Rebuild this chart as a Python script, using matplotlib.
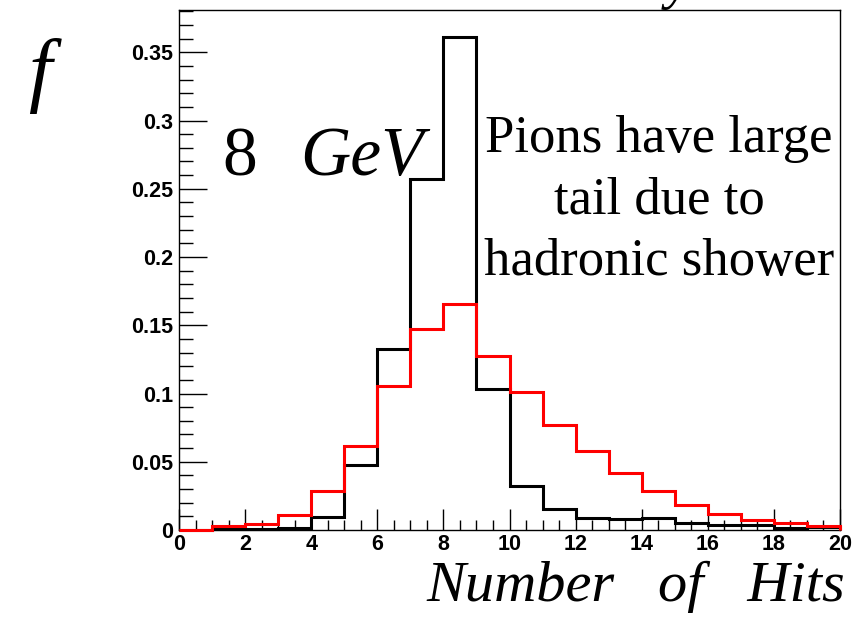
import matplotlib
matplotlib.use('Agg')
import matplotlib.pyplot as plt
from matplotlib.ticker import MultipleLocator
import numpy as np

# bin edges: number of hits, unit-wide bins
edges = np.arange(0, 21)

# normalised hit-count fractions
electrons = [0.0, 0.0004, 0.0004, 0.0018, 0.0093, 0.0474, 0.1326, 0.2575, 0.3615, 0.1030,
             0.0320, 0.0154, 0.0087, 0.0077, 0.0087, 0.0050, 0.0040, 0.0040, 0.0016, 0.0021]
pions = [0.0, 0.0027, 0.0044, 0.0112, 0.0284, 0.0612, 0.1056, 0.1472, 0.1655, 0.1275,
         0.1012, 0.0768, 0.0580, 0.0414, 0.0286, 0.0185, 0.0118, 0.0076, 0.0049, 0.0032]

x_ticks = list(range(0, 21, 2))
y_ticks = [0, 0.05, 0.1, 0.15, 0.2, 0.25, 0.3, 0.35]
y_tick_labels = ['0', '0.05', '0.1', '0.15', '0.2', '0.25', '0.3', '0.35']

W, H = 855, 619
fig = plt.figure(figsize=(W / 100, H / 100), dpi=100)
ax = fig.add_axes([179 / W, 1 - 530 / H, (840 - 179) / W, (530 - 10) / H])

ax.stairs(electrons, edges, baseline=0, color='black', linewidth=2.2,
          clip_on=False, zorder=3)
ax.stairs(pions, edges, baseline=0, color='#ff0000', linewidth=2.2,
          clip_on=False, zorder=4)

ax.set_xlim(0, 20)
ax.set_ylim(0, 0.381)

ax.set_xticks(x_ticks)
ax.set_yticks(y_ticks)
ax.set_yticklabels(y_tick_labels)
ax.xaxis.set_minor_locator(MultipleLocator(0.5))
ax.yaxis.set_minor_locator(MultipleLocator(0.01))
ax.tick_params(which='both', direction='in', top=False, right=False, width=1.0)
ax.tick_params(axis='x', which='major', length=15, pad=3)
ax.tick_params(axis='x', which='minor', length=7)
ax.tick_params(axis='y', which='major', length=20, pad=4)
ax.tick_params(axis='y', which='minor', length=10)
for lab in ax.get_xticklabels() + ax.get_yticklabels():
    lab.set_fontfamily('Liberation Sans')
    lab.set_fontweight('bold')
    lab.set_fontsize(15.5)
for sp in ax.spines.values():
    sp.set_linewidth(1.0)


def px_text(x, y, s, **kw):
    fig.text(x / W, 1 - y / H, s, **kw)


serif = 'Liberation Serif'
px_text(40, 96, 'f', family=serif, style='italic', fontsize=60, ha='center', va='baseline')
px_text(222, 175, '8', family=serif, fontsize=50, ha='left', va='baseline')
px_text(300, 175, 'GeV', family=serif, style='italic', fontsize=50, ha='left', va='baseline')
px_text(659, 152, 'Pions have large', family=serif, fontsize=38, ha='center', va='baseline')
px_text(659, 213, 'tail due to', family=serif, fontsize=38, ha='center', va='baseline')
px_text(659, 275, 'hadronic shower', family=serif, fontsize=38, ha='center', va='baseline')
px_text(845, 601, 'Number   of   Hits', family=serif, style='italic', fontsize=42,
        ha='right', va='baseline')
px_text(678, -2, 'y', family=serif, style='italic', fontsize=40, ha='center', va='baseline')

fig.savefig('out.png', dpi=100)
